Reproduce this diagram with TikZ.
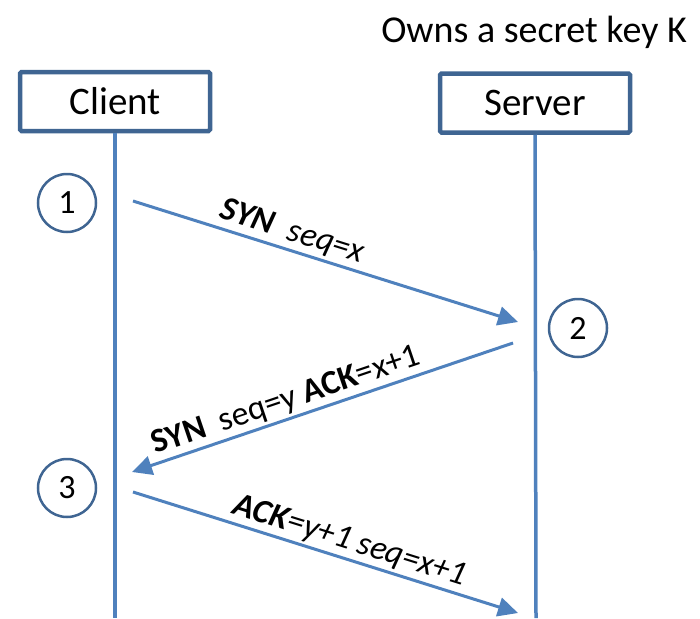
\documentclass[tikz,border=0pt]{standalone}
\usepackage{fontspec}
\setmainfont{Carlito}
\usetikzlibrary{arrows.meta}
\definecolor{boxblue}{HTML}{3F6592}
\definecolor{lineblue}{HTML}{4F81BD}
\tikzset{
  actor/.style={draw=boxblue, line width=4.5pt, rounded corners=1.5pt, fill=white,
    minimum width=190pt, minimum height=59pt, inner sep=0pt,
    font=\fontsize{39}{45}\selectfont},
  lifeline/.style={draw=lineblue, line width=3.5pt},
  stepnum/.style={circle, draw=boxblue, line width=2.5pt, minimum size=58pt, inner sep=0pt,
    font=\fontsize{34}{38}\selectfont},
  msg/.style={draw=lineblue, line width=3pt, -{Triangle[length=20pt,width=19pt]}},
  msglabel/.style={sloped, above, inner sep=2.5pt, font=\fontsize{34}{38}\selectfont},
}
\begin{document}
\begin{tikzpicture}[x=1pt, y=-1pt]
  \useasboundingbox (0,0) rectangle (700,618);
  % lifelines
  \coordinate (cbot) at (115,618);
  \coordinate (sbot) at (536,618);
  \node[actor] (client) at (115,101.5) {Client};
  \node[actor] (server) at (535,103) {Server};
  \draw[lifeline] (client.south) -- (cbot);
  \draw[lifeline] (server.south) -- (sbot);
  % note above the server
  \node[font=\fontsize{38}{44}\selectfont, anchor=base] (note) at (534,43) {Owns a secret key K};
  % step markers
  \node[stepnum] (s1) at (67,203) {1};
  \node[stepnum] (s2) at (578,328) {2};
  \node[stepnum] (s3) at (67,488) {3};
  % message end points
  \coordinate (m1a) at (133,201);
  \coordinate (m1b) at (518,322);
  \coordinate (m2a) at (513,343);
  \coordinate (m2b) at (132,472);
  \coordinate (m3a) at (133,492);
  \coordinate (m3b) at (518,613);
  % messages
  \draw[msg] (m1a) -- node[msglabel, pos=0.4] (l1) {\textit{\textbf{SYN}\ \ seq=x}} (m1b);
  \draw[msg] (m2a) -- node[msglabel, pos=0.58] (l2) {\textbf{SYN}\ \ seq=y \textbf{ACK}=x+1} (m2b);
  \draw[msg] (m3a) -- node[msglabel, pos=0.55] (l3) {\textit{\textbf{ACK}=y+1 seq=x+1}} (m3b);
\end{tikzpicture}
\end{document}
